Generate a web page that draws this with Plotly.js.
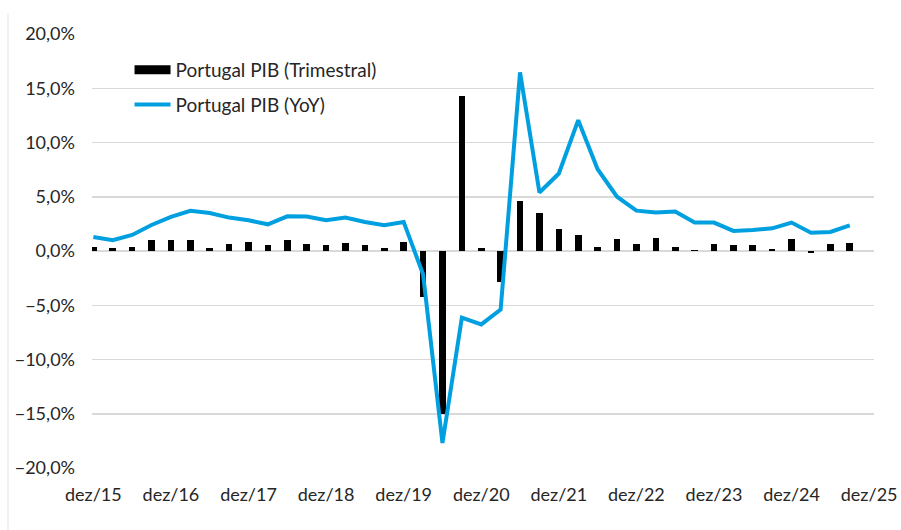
<!DOCTYPE html>
<html>
<head>
<meta charset="utf-8">
<script src="https://cdn.plot.ly/plotly-3.0.1.min.js"></script>
<style>html,body{margin:0;padding:0;background:#fff;}#chart{width:901px;height:530px;}</style>
</head>
<body>
<div id="chart"></div>
<script>
// Quarters: dez/15 (Q4 2015) ... set/25 (Q3 2025)
const quarters = [
  'dez/15','mar/16','jun/16','set/16','dez/16','mar/17','jun/17','set/17',
  'dez/17','mar/18','jun/18','set/18','dez/18','mar/19','jun/19','set/19',
  'dez/19','mar/20','jun/20','set/20','dez/20','mar/21','jun/21','set/21',
  'dez/21','mar/22','jun/22','set/22','dez/22','mar/23','jun/23','set/23',
  'dez/23','mar/24','jun/24','set/24','dez/24','mar/25','jun/25','set/25'
];
// Quarter-on-quarter growth (%)
const pibTrimestral = [
  0.37, 0.25, 0.37, 1.05, 1.05, 0.98, 0.25, 0.65,
  0.83, 0.58, 0.98, 0.65, 0.55, 0.74, 0.58, 0.31,
  0.80, -4.2, -15.0, 14.3, 0.26, -2.9, 4.6, 3.53,
  1.99, 1.52, 0.35, 1.10, 0.68, 1.23, 0.40, 0.10,
  0.65, 0.55, 0.55, 0.18, 1.14, -0.20, 0.65, 0.74
];
// Year-on-year growth (%)
const pibYoY = [
  1.29, 1.00, 1.48, 2.40, 3.14, 3.70, 3.50, 3.08,
  2.83, 2.46, 3.20, 3.17, 2.83, 3.08, 2.68, 2.37,
  2.68, -2.15, -17.7, -6.15, -6.77, -5.39, 16.46, 5.39,
  7.14, 12.06, 7.54, 5.00, 3.72, 3.54, 3.63, 2.62,
  2.62, 1.85, 1.94, 2.09, 2.62, 1.69, 1.75, 2.37
];
const tickLabels = ['dez/15','dez/16','dez/17','dez/18','dez/19','dez/20','dez/21','dez/22','dez/23','dez/24','dez/25'];

const xIdx = quarters.map((q, i) => i);
const tickVals = tickLabels.map((t, i) => i * 4);
const xRange = [-0.07, 40.25];
const FONT = 'Lato, "Liberation Sans", Arial, sans-serif';
const GRID = '#d9d9d9';

const traces = [
  {
    type: 'bar', x: xIdx, y: pibTrimestral, name: 'Portugal PIB (Trimestral)',
    marker: {color: '#000000'}, width: 0.34, showlegend: false,
    hovertemplate: '%{customdata}: %{y:.1f}%<extra></extra>', customdata: quarters
  },
  {
    type: 'scatter', mode: 'lines', x: [null], y: [null], name: 'Portugal PIB (Trimestral)',
    line: {color: '#000000', width: 9}, legendgroup: 'a', hoverinfo: 'skip'
  },
  {
    type: 'scatter', mode: 'lines', x: xIdx, y: pibYoY, name: 'Portugal PIB (YoY)',
    line: {color: '#00A0E0', width: 4}, legendgroup: 'b',
    hovertemplate: '%{customdata}: %{y:.1f}%<extra></extra>', customdata: quarters
  }
];

const layout = {
  width: 901, height: 530,
  margin: {l: 92, r: 27, t: 34, b: 62},
  paper_bgcolor: '#ffffff', plot_bgcolor: '#ffffff',
  separators: ',.',
  font: {family: FONT, size: 18, color: '#262626'},
  showlegend: true,
  bargap: 0,
  legend: {
    x: 0.048, y: 0.961, xanchor: 'left', yanchor: 'top', itemwidth: 36,
    bgcolor: 'rgba(0,0,0,0)', font: {family: FONT, size: 19, color: '#262626'},
    traceorder: 'grouped', tracegroupgap: 7
  },
  xaxis: {
    range: xRange, tickvals: tickVals, ticktext: tickLabels,
    showgrid: false, zeroline: false, showline: false, ticks: '',
    ticklabelstandoff: 14, tickfont: {family: FONT, size: 18, color: '#262626'}
  },
  xaxis2: {
    overlaying: 'x', anchor: 'free', position: 0.5, range: xRange,
    tickvals: tickVals, showticklabels: false, showgrid: false, zeroline: false,
    showline: true, linecolor: GRID, linewidth: 1.5,
    ticks: 'outside', ticklen: 6, tickcolor: GRID, tickwidth: 1.5
  },
  yaxis: {
    range: [-20, 20], dtick: 5, tick0: 0, tickformat: '.1f', ticksuffix: '%',
    showgrid: true, gridcolor: GRID, gridwidth: 1.5, zeroline: false, showline: false,
    ticks: '', ticklabelstandoff: 16, tickfont: {family: FONT, size: 18, color: '#262626'}
  },
  shapes: [
    {type: 'line', xref: 'paper', yref: 'paper', x0: -0.1074, x1: -0.1074, y0: 1.048, y1: -0.15,
     line: {color: '#e3e3e3', width: 1}}
  ]
};

Plotly.newPlot('chart', traces, layout, {displayModeBar: false, staticPlot: true});
</script>
</body>
</html>
